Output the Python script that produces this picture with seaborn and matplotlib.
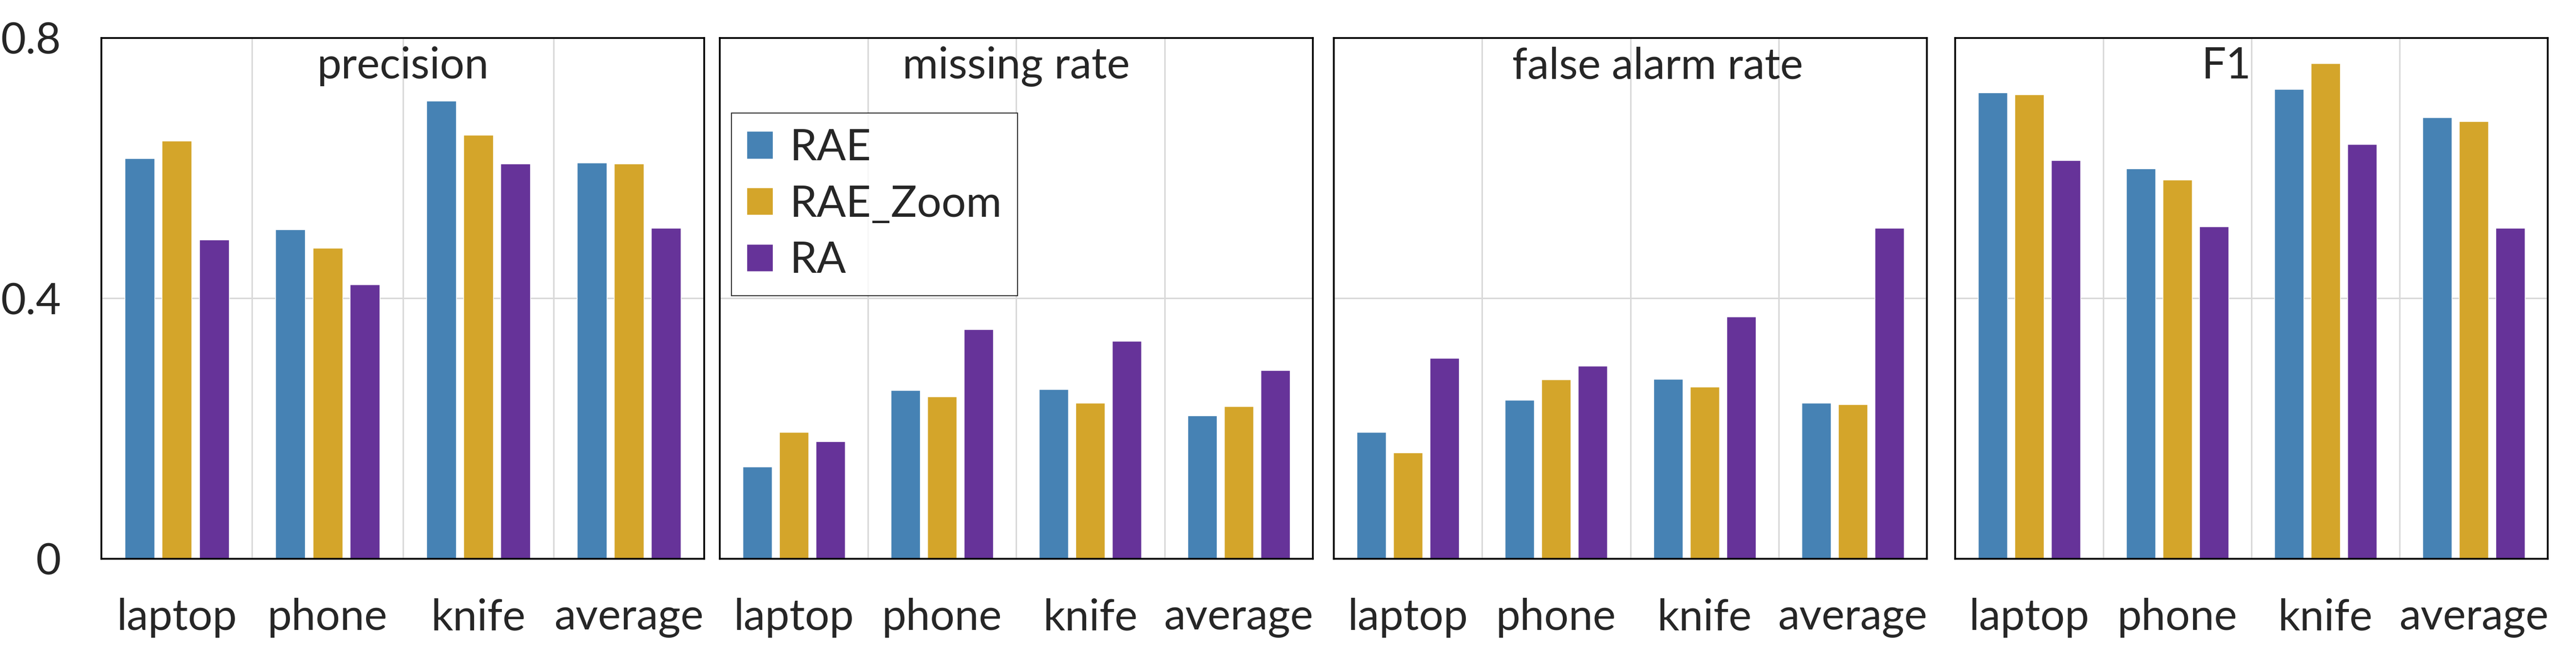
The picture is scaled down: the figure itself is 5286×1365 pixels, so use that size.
import pandas as pd
import seaborn as sns
import matplotlib.pyplot as plt

# values
categories = ["laptop", "phone", "knife", "average"]
methods = ["RAE", "RAE_Zoom", "RA"]
metrics = ["precision", "missing rate", "false alarm rate", "F1"]

precision = {
    "RAE": [0.615, 0.506, 0.703, 0.608],
    "RAE_Zoom": [0.642, 0.477, 0.651, 0.607],
    "RA": [0.490, 0.421, 0.607, 0.508],
}
missing_rate = {
    "RAE": [0.141, 0.259, 0.260, 0.220],
    "RAE_Zoom": [0.194, 0.249, 0.239, 0.234],
    "RA": [0.180, 0.352, 0.334, 0.289],
}
false_alarm_rate = {
    "RAE": [0.194, 0.244, 0.276, 0.239],
    "RAE_Zoom": [0.163, 0.275, 0.264, 0.237],
    "RA": [0.308, 0.296, 0.372, 0.508],
}
f1 = {
    "RAE": [0.716, 0.599, 0.721, 0.678],
    "RAE_Zoom": [0.713, 0.582, 0.761, 0.672],
    "RA": [0.612, 0.510, 0.637, 0.508],
}
all_data = [precision, missing_rate, false_alarm_rate, f1]

colors = ["#4682B4", "#D4A52A", "#663399"]
yticks = [0, 0.4, 0.8]
ytick_labels = ["0", "0.4", "0.8"]

sns.set_style("white")
plt.rcParams['font.family'] = ['Lato', 'DejaVu Sans']
fs = 64

fig = plt.figure(figsize=(52.86, 13.65), dpi=100)

# axes positions (left, right) in figure fraction
panel_x = [(0.0394, 0.2734), (0.2794, 0.5096), (0.5178, 0.7480), (0.7590, 0.9890)]
title_x = [0.5, 0.5, 0.546, 0.458]
bottom, top = 0.160, 0.943

for i, (metric, data) in enumerate(zip(metrics, all_data)):
    rows = []
    for m in methods:
        for c, v in zip(categories, data[m]):
            rows.append({"category": c, "method": m, "value": v})
    df = pd.DataFrame(rows)

    l, r = panel_x[i]
    ax = fig.add_axes([l, bottom, r - l, top - bottom])
    sns.barplot(data=df, x="category", y="value", hue="method", order=categories,
                hue_order=methods, palette=colors, width=0.74, gap=0.2,
                saturation=1, ax=ax, legend=(i == 1), errorbar=None)

    ax.set_ylim(0, 0.8)
    ax.set_xlim(-0.5, 3.5)
    ax.set_xlabel("")
    ax.set_ylabel("")
    ax.set_yticks(yticks)
    if i == 0:
        ax.set_yticklabels(ytick_labels)
    else:
        ax.set_yticklabels([])
    ax.set_xticks(range(len(categories)))
    ax.set_xticklabels(categories)
    ax.set_xticks([0.5, 1.5, 2.5], minor=True)
    ax.tick_params(axis='x', which='both', length=0, labelsize=fs, pad=58)
    ax.tick_params(axis='y', length=0, labelsize=fs, pad=60)

    ax.set_axisbelow(True)
    ax.grid(True, axis='y', which='major', color='#D9D9D9', linewidth=2.2)
    ax.grid(True, axis='x', which='minor', color='#D9D9D9', linewidth=2.2)
    ax.grid(False, axis='x', which='major')

    for sp in ax.spines.values():
        sp.set_visible(True)
        sp.set_color('black')
        sp.set_linewidth(2.6)

    ax.text(title_x[i], 0.922, metric, transform=ax.transAxes, ha='center',
            va='baseline', fontsize=fs)

    if i == 1:
        leg = ax.legend(loc='upper left', bbox_to_anchor=(0.02, 0.856), fontsize=fs,
                        frameon=True, fancybox=False, edgecolor='black',
                        borderaxespad=0, handlelength=0.6, handleheight=0.6,
                        handletextpad=0.4, labelspacing=0.38, borderpad=0.35,
                        title=None)
        leg.get_frame().set_linewidth(1.5)

fig.savefig("out.png", dpi=100)
